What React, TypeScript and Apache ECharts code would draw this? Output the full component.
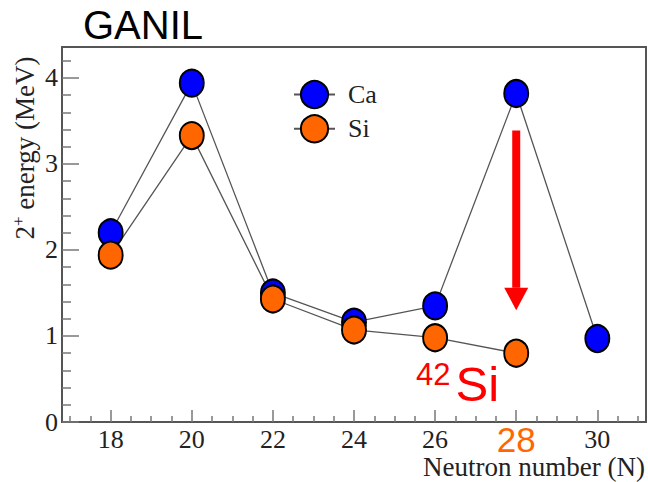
import React, { useEffect, useRef } from "react";
import * as echarts from "echarts";

// Neutron numbers and 2+ excitation energies (MeV)
const caNeutrons = [18, 20, 22, 24, 26, 28, 30];
const caEnergies = [2.2, 3.94, 1.5, 1.16, 1.35, 3.82, 0.97];
const siNeutrons = [18, 20, 22, 24, 26, 28];
const siEnergies = [1.94, 3.33, 1.43, 1.07, 0.98, 0.8];

// Axis ranges and tick labels
const xRange = [16.8, 31.2];
const yRange = [0, 4.36];
const xMajorTicks = [18, 20, 22, 24, 26, 28, 30];
const yMajorTicks = [0, 1, 2, 3, 4];
const highlightedN = 28;

// Arrow marking the drop of the 2+ energy at N = 28 (from, head base, tip)
const arrowN = 28;
const arrowEnergies = [3.39, 1.56, 1.3];

const minorTicks = (from: number, to: number, step: number, majors: number[]) => {
  const out: number[] = [];
  for (let i = 0; from + i * step <= to + 1e-9; i++) {
    const v = Math.round((from + i * step) * 100) / 100;
    if (!majors.includes(v)) out.push(v);
  }
  return out;
};
const xMinorTicks = minorTicks(17, 31, 0.5, xMajorTicks);
const yMinorTicks = minorTicks(0.2, 4.2, 0.2, yMajorTicks);

const SERIF = "Liberation Serif";
const SANS = "Liberation Sans";
const FRAME = "#555";
const TICK = "#777";
const TEXT = "#222";

export default function App() {
  const ref = useRef<HTMLDivElement>(null);

  useEffect(() => {
    const el = ref.current;
    if (!el) return;
    const chart = echarts.init(el, undefined, { renderer: "svg" });

    const markerStyle = (color: string) => ({
      color,
      borderColor: "#000",
      borderWidth: 2,
    });

    chart.setOption({
      animation: false,
      backgroundColor: "#fff",
      grid: {
        left: 62,
        top: 47,
        right: 2,
        bottom: 60,
        show: true,
        borderColor: FRAME,
        borderWidth: 2,
        outerBoundsMode: "none",
      },
      legend: {
        data: ["Ca", "Si"],
        orient: "vertical",
        left: 293,
        top: 80,
        padding: 0,
        itemWidth: 41,
        itemHeight: 34,
        itemGap: 5,
        textStyle: {
          fontFamily: SERIF,
          fontSize: 26,
          color: TEXT,
          padding: [0, 0, 0, 8],
        },
      },
      xAxis: [
        {
          type: "value",
          min: xRange[0],
          max: xRange[1],
          position: "bottom",
          axisLine: { show: true, lineStyle: { color: FRAME, width: 2 } },
          axisTick: {
            show: true,
            inside: true,
            length: 12,
            customValues: xMajorTicks,
            lineStyle: { color: TICK, width: 1.5 },
          },
          axisLabel: {
            customValues: xMajorTicks,
            margin: 4,
            fontFamily: SERIF,
            fontSize: 26,
            color: TEXT,
            formatter: (v: number) => (v === highlightedN ? `{o|${v}}` : String(v)),
            rich: {
              o: {
                fontFamily: SANS,
                fontSize: 35,
                color: "#FF6600",
                lineHeight: 24,
                padding: [2, 0, 0, 0],
              },
            },
          },
          splitLine: { show: false },
        },
        {
          type: "value",
          min: xRange[0],
          max: xRange[1],
          position: "bottom",
          axisLine: { show: false },
          axisTick: {
            show: true,
            inside: true,
            length: 6,
            customValues: xMinorTicks,
            lineStyle: { color: TICK, width: 1.5 },
          },
          axisLabel: { show: false },
          splitLine: { show: false },
        },
      ],
      yAxis: [
        {
          type: "value",
          min: yRange[0],
          max: yRange[1],
          position: "left",
          axisLine: { show: true, lineStyle: { color: FRAME, width: 2 } },
          axisTick: {
            show: true,
            inside: true,
            length: 17,
            customValues: yMajorTicks,
            lineStyle: { color: TICK, width: 1.5 },
          },
          axisLabel: {
            customValues: yMajorTicks,
            margin: 4,
            fontFamily: SERIF,
            fontSize: 26,
            color: TEXT,
            padding: [6, 0, 0, 0],
          },
          splitLine: { show: false },
        },
        {
          type: "value",
          min: yRange[0],
          max: yRange[1],
          position: "left",
          axisLine: { show: false },
          axisTick: {
            show: true,
            inside: true,
            length: 9,
            customValues: yMinorTicks,
            lineStyle: { color: TICK, width: 1.5 },
          },
          axisLabel: { show: false },
          splitLine: { show: false },
        },
      ],
      series: [
        {
          name: "Ca",
          type: "line",
          xAxisIndex: 0,
          yAxisIndex: 0,
          data: caNeutrons.map((n, i) => [n, caEnergies[i]]),
          symbol: "circle",
          symbolSize: [24, 27],
          itemStyle: markerStyle("#0000FF"),
          lineStyle: { color: "#555", width: 1.3 },
        },
        {
          name: "Si",
          type: "line",
          xAxisIndex: 0,
          yAxisIndex: 0,
          data: siNeutrons.map((n, i) => [n, siEnergies[i]]),
          symbol: "circle",
          symbolSize: [24, 27],
          itemStyle: markerStyle("#FF6600"),
          lineStyle: { color: "#555", width: 1.3 },
        },
      ],
    });

    const finder = { xAxisIndex: 0, yAxisIndex: 0 };
    const [ax, yFrom] = chart.convertToPixel(finder, [arrowN, arrowEnergies[0]]) as number[];
    const [, yBase] = chart.convertToPixel(finder, [arrowN, arrowEnergies[1]]) as number[];
    const [, yTip] = chart.convertToPixel(finder, [arrowN, arrowEnergies[2]]) as number[];

    chart.setOption({
      graphic: [
        {
          type: "text",
          x: 143,
          y: 25,
          style: {
            text: "GANIL",
            fontFamily: SANS,
            fontSize: 40,
            fill: "#000",
            align: "center",
            verticalAlign: "middle",
          },
        },
        {
          type: "text",
          x: 645,
          y: 467,
          style: {
            text: "Neutron number (N)",
            fontFamily: SERIF,
            fontSize: 27,
            fill: TEXT,
            align: "right",
            verticalAlign: "middle",
          },
        },
        {
          type: "text",
          x: 25,
          y: 148,
          rotation: Math.PI / 2,
          style: {
            text: "{n|2}{s|+}{n| energy (MeV)}",
            align: "center",
            verticalAlign: "middle",
            fill: TEXT,
            rich: {
              n: { fontFamily: SERIF, fontSize: 27, fill: TEXT, lineHeight: 30 },
              s: {
                fontFamily: SERIF,
                fontSize: 17,
                fill: TEXT,
                verticalAlign: "top",
                lineHeight: 30,
              },
            },
          },
        },
        {
          type: "text",
          x: 416,
          y: 359,
          style: {
            text: "{s|42}{b|Si}",
            align: "left",
            verticalAlign: "top",
            fill: "#FF0000",
            rich: {
              s: {
                fontFamily: SANS,
                fontSize: 31,
                fill: "#FF0000",
                verticalAlign: "top",
                lineHeight: 50,
                padding: [0, 5, 0, 0],
              },
              b: {
                fontFamily: SANS,
                fontSize: 49,
                fill: "#FF0000",
                lineHeight: 50,
              },
            },
          },
        },
        {
          type: "rect",
          shape: { x: ax - 4, y: yFrom, width: 8, height: yBase - yFrom },
          style: { fill: "#FF0000" },
        },
        {
          type: "polygon",
          shape: {
            points: [
              [ax - 12, yBase],
              [ax + 12, yBase],
              [ax, yTip],
            ],
          },
          style: { fill: "#FF0000" },
        },
      ],
    });

    return () => chart.dispose();
  }, []);

  return (
    <div
      ref={ref}
      style={{ position: "fixed", left: 0, top: 0, width: 648, height: 482 }}
    />
  );
}
